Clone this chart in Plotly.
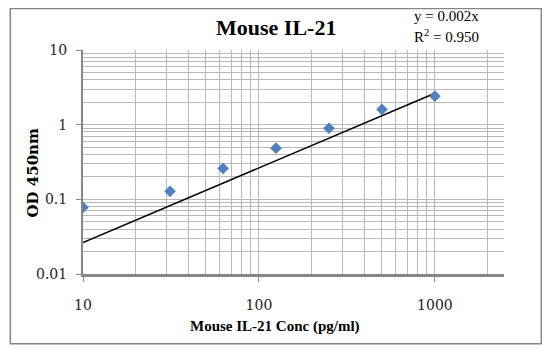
import numpy as np
import plotly.graph_objects as go

# Data
conc = [10, 31.25, 62.5, 125, 250, 500, 1000]
od = [0.078, 0.128, 0.259, 0.484, 0.895, 1.60, 2.41]
title_text = "Mouse IL-21"
eq_text = "y = 0.002x"
r2_text = "R<sup>2</sup> = 0.950"
x_title = "Mouse IL-21 Conc (pg/ml)"
y_title = "OD 450nm"
x_ticks = [10, 100, 1000]
y_ticks = [0.01, 0.1, 1, 10]

# Zero-intercept least-squares trendline
xa = np.array(conc, dtype=float)
ya = np.array(od, dtype=float)
slope = float((xa * ya).sum() / (xa * xa).sum())
trend_x = [min(conc), max(conc)]
trend_y = [slope * v for v in trend_x]

SERIF = "Liberation Serif"
DSERIF = "DejaVu Serif"
GRID = "#b8b8b8"
AXIS = "#868686"

fig = go.Figure()
fig.add_trace(go.Scatter(x=trend_x, y=trend_y, mode="lines",
                         line=dict(color="black", width=1.5),
                         showlegend=False, hoverinfo="skip"))
fig.add_trace(go.Scatter(x=conc, y=od, mode="markers",
                         marker=dict(symbol="diamond", size=9, color="#4f81bd",
                                     line=dict(width=0)),
                         showlegend=False))

OFF = 8  # page body margin
L, R, T, B = 82.7 - OFF, 503.7 - OFF, 49.5 - OFF, 274.0 - OFF
W, H = 550 - OFF, 355 - OFF
pw, ph = R - L, B - T

def px(x):
    return (x - OFF - L) / pw

def py(y):
    return (B - (y - OFF)) / ph

fig.update_layout(
    width=W, height=H,
    margin=dict(l=L, r=W - R, t=T, b=H - B, pad=0),
    paper_bgcolor="white", plot_bgcolor="white",
    showlegend=False,
    xaxis=dict(type="log", range=[1, np.log10(2470)],
               tickvals=x_ticks, ticktext=[str(v) for v in x_ticks],
               ticks="outside", ticklen=5, tickcolor=AXIS, tickwidth=1,
               showgrid=True, gridcolor=GRID, gridwidth=1,
               minor=dict(dtick="D1", showgrid=True, gridcolor=GRID, gridwidth=1, ticks=""),
               showline=True, linecolor=AXIS, linewidth=2.5,
               zeroline=False, mirror=False,
               tickfont=dict(family=DSERIF, size=14, color="#222"),
               ticklabelstandoff=11),
    yaxis=dict(type="log", range=[-2, 1],
               tickvals=y_ticks, ticktext=["0.01", "0.1", "1", "10"],
               ticks="outside", ticklen=5, tickcolor=AXIS, tickwidth=1,
               showgrid=True, gridcolor=GRID, gridwidth=1,
               minor=dict(dtick="D1", showgrid=True, gridcolor=GRID, gridwidth=1, ticks=""),
               showline=True, linecolor=AXIS, linewidth=2,
               zeroline=False, mirror=False,
               tickfont=dict(family=DSERIF, size=14, color="#222"),
               ticklabelstandoff=6),
    shapes=[dict(type="rect", xref="paper", yref="paper",
                 x0=px(10), x1=px(541), y0=py(344), y1=py(8),
                 line=dict(color=AXIS, width=1.5), layer="below")],
    annotations=[
        dict(text="<b>" + title_text + "</b>", xref="paper", yref="paper",
             x=px(276), y=py(27), xanchor="center", yanchor="middle", showarrow=False,
             font=dict(family=SERIF, size=22, color="black")),
        dict(text=eq_text, xref="paper", yref="paper",
             x=px(412), y=py(15), xanchor="left", yanchor="middle", showarrow=False,
             font=dict(family=SERIF, size=15, color="black")),
        dict(text=r2_text, xref="paper", yref="paper",
             x=px(412), y=py(35), xanchor="left", yanchor="middle", showarrow=False,
             font=dict(family=SERIF, size=15, color="black")),
        dict(text="<b>" + y_title + "</b>", xref="paper", yref="paper",
             x=px(33), y=py(172), xanchor="center", yanchor="middle", showarrow=False,
             textangle=-90, font=dict(family=DSERIF, size=15, color="black")),
        dict(text="<b>" + x_title + "</b>", xref="paper", yref="paper",
             x=px(275), y=py(327), xanchor="center", yanchor="middle", showarrow=False,
             font=dict(family=SERIF, size=15, color="black")),
    ],
)

fig.write_html("out.html")
